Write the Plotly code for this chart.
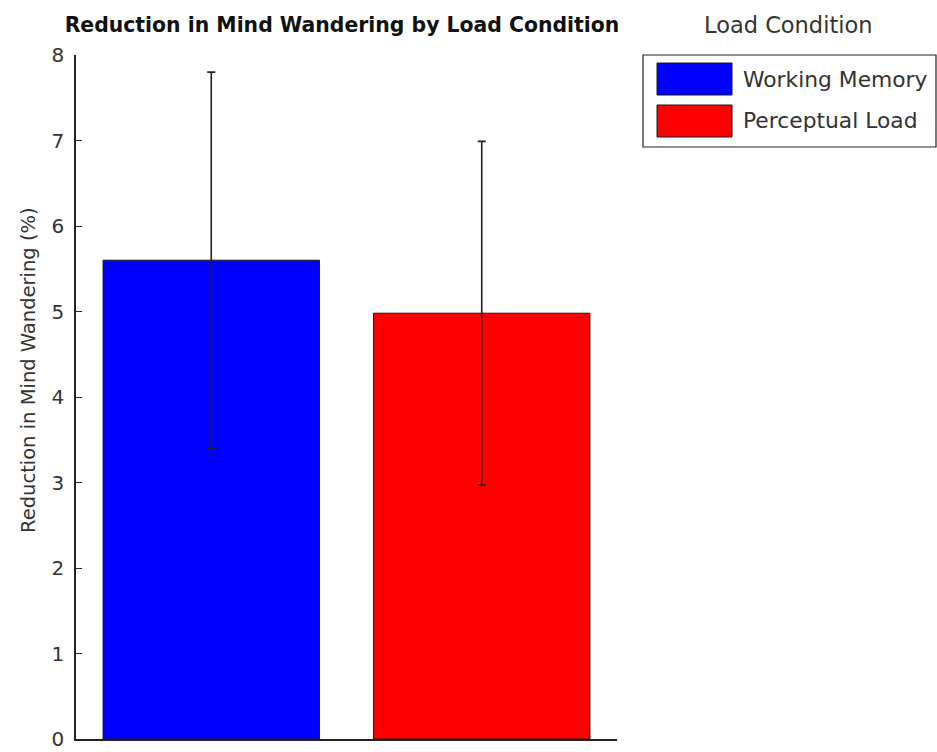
import plotly.graph_objects as go

# Data
conditions = ["Working Memory", "Perceptual Load"]
reduction = [5.6, 4.98]          # mean reduction in mind wandering (%)
sem = [2.2, 2.01]                # error bar half-lengths
colors = ["#0000FF", "#FF0000"]
y_ticks = [0, 1, 2, 3, 4, 5, 6, 7, 8]

W, H = 937, 752
L, R, T, B = 76, 320, 55, 13
plot_w = W - L - R
plot_h = H - T - B

FONT = "DejaVu Sans"


def px_x(px):
    return (px - L) / plot_w


def px_y(py):
    return (H - B - py) / plot_h


fig = go.Figure()
fig.add_trace(go.Bar(
    x=[1, 2],
    y=reduction,
    width=0.8,
    marker=dict(color=colors, line=dict(color="#1a1a1a", width=1)),
    error_y=dict(type="data", array=sem, visible=True,
                 color="#222222", thickness=1.6, width=4),
    showlegend=False,
))

# Legend box drawn by hand, with large colour swatches
shapes = [dict(type="rect", xref="paper", yref="paper",
               x0=px_x(643), x1=px_x(936), y0=px_y(147), y1=px_y(55),
               line=dict(color="#222222", width=1.2), fillcolor="white")]
annotations = []
for i, (name, col) in enumerate(zip(conditions, colors)):
    top = 63 + i * 42
    shapes.append(dict(type="rect", xref="paper", yref="paper",
                       x0=px_x(657), x1=px_x(732),
                       y0=px_y(top + 32), y1=px_y(top),
                       line=dict(color="#1a1a1a", width=1), fillcolor=col))
    annotations.append(dict(xref="paper", yref="paper",
                            x=px_x(741), y=px_y(top + 16),
                            text=name, showarrow=False,
                            xanchor="left", yanchor="middle",
                            font=dict(family=FONT, size=21.8, color="#333333")))

annotations.append(dict(xref="paper", yref="paper",
                        x=px_x(788), y=px_y(25),
                        text="Load Condition", showarrow=False,
                        xanchor="center", yanchor="middle",
                        font=dict(family=FONT, size=22.5, color="#333333")))

# Y-axis title
annotations.append(dict(xref="paper", yref="paper",
                        x=px_x(28), y=px_y(370),
                        text="Reduction in Mind Wandering (%)", showarrow=False,
                        textangle=-90, xanchor="center", yanchor="middle",
                        font=dict(family=FONT, size=19.5, color="#333333")))

fig.update_layout(
    width=W, height=H,
    margin=dict(l=L, r=R, t=T, b=B, autoexpand=False),
    paper_bgcolor="white", plot_bgcolor="white",
    title=dict(text="<b>Reduction in Mind Wandering by Load Condition</b>",
               x=px_x(342), xref="paper", xanchor="center",
               y=1 - 25 / H, yref="container", yanchor="middle",
               font=dict(family=FONT, size=20.4, color="#111111")),
    xaxis=dict(range=[0.5, 2.5], showticklabels=False, ticks="",
               showgrid=False, zeroline=False, showline=True,
               linecolor="#222222", linewidth=1.5, fixedrange=True),
    yaxis=dict(range=[0, 8], tickvals=y_ticks, ticks="inside", ticklen=6,
               tickwidth=1.2, tickcolor="#222222",
               showgrid=False, zeroline=False, showline=True,
               linecolor="#222222", linewidth=1.5,
               ticklabelstandoff=6,
               tickfont=dict(family=FONT, size=20, color="#333333")),
    shapes=shapes,
    annotations=annotations,
)

fig.write_html("out.html")
